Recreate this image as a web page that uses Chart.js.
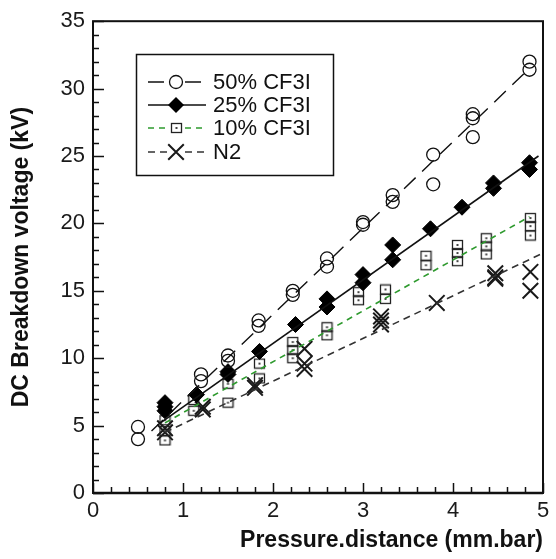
<!DOCTYPE html>
<html>
<head>
<meta charset="utf-8">
<script src="https://cdn.jsdelivr.net/npm/chart.js@4.4.1/dist/chart.umd.min.js"></script>
<style>
  html, body { margin: 0; padding: 0; background: #fff; }
</style>
</head>
<body>
<canvas id="chart" width="556" height="559"></canvas>
<script>
// ── Data ────────────────────────────────────────────────────────────────────
const seriesNames = ['50% CF3I', '25% CF3I', '10% CF3I', 'N2'];

const pd50 = [0.5, 0.5, 1.2, 1.2, 1.5, 1.5, 1.84, 1.84, 2.22, 2.22, 2.6, 2.6, 3.0, 3.0, 3.33, 3.33, 3.78, 3.78, 4.22, 4.22, 4.22, 4.85, 4.85];
const kv50 = [4.9, 4.0, 8.8, 8.3, 10.2, 9.8, 12.8, 12.4, 15.0, 14.7, 17.4, 16.8, 20.1, 19.9, 22.1, 21.6, 25.1, 22.9, 28.1, 27.8, 26.4, 32.0, 31.4];

const pd25 = [0.8, 0.8, 0.8, 1.15, 1.5, 1.5, 1.85, 2.25, 2.6, 2.6, 3.0, 3.0, 3.33, 3.33, 3.75, 4.1, 4.45, 4.45, 4.85, 4.85];
const kv25 = [6.7, 6.4, 6.1, 7.3, 9.0, 8.8, 10.5, 12.5, 14.4, 13.8, 16.2, 15.6, 18.4, 17.3, 19.6, 21.2, 23.0, 22.6, 24.5, 24.0];

const pd10 = [0.8, 0.8, 0.8, 1.12, 1.12, 1.5, 1.5, 1.85, 1.85, 2.22, 2.22, 2.22, 2.6, 2.6, 2.95, 2.95, 3.25, 3.25, 3.7, 3.7, 4.05, 4.05, 4.05, 4.37, 4.37, 4.37, 4.86, 4.86, 4.86];
const kv10 = [5.4, 4.6, 3.9, 6.9, 6.1, 8.1, 6.7, 9.6, 8.5, 11.2, 10.6, 10.0, 12.3, 11.7, 14.9, 14.3, 15.1, 14.4, 17.6, 16.9, 18.4, 17.8, 17.2, 18.9, 18.3, 17.7, 20.4, 19.8, 19.1];

const pdN2 = [0.8, 0.8, 1.22, 1.22, 1.8, 1.8, 2.35, 2.35, 2.35, 3.2, 3.2, 3.2, 3.82, 4.47, 4.47, 4.47, 4.86, 4.86];
const kvN2 = [4.8, 4.5, 6.4, 6.2, 8.0, 7.8, 10.7, 9.6, 9.2, 13.1, 12.8, 12.5, 14.1, 16.3, 16.0, 15.9, 16.4, 15.0];

// linear fits drawn through each group (end points)
const fit50X = [0.65, 4.85], fit50Y = [4.6, 31.5];
const fit25X = [0.75, 4.95], fit25Y = [5.2, 25.0];
const fit10X = [0.8, 4.85],  fit10Y = [5.2, 20.5];
const fitN2X = [0.8, 4.97],  fitN2Y = [4.5, 17.7];

const xTicksMax = 5, yTicksMax = 35;

// ── Helpers ────────────────────────────────────────────────────────────────
const FONT = "'Liberation Sans', Arial, sans-serif";
const pts = (xs, ys) => xs.map((x, i) => ({ x: x, y: ys[i] }));

// open square with a dot in the middle
function makeSquare() {
    const c = document.createElement('canvas');
    c.width = 13; c.height = 12;
    const g = c.getContext('2d');
    g.strokeStyle = '#222';
    g.lineWidth = 1.3;
    g.strokeRect(1.5, 1.5, 10, 9);
    g.fillStyle = '#444';
    g.fillRect(5.5, 5, 2, 2);
    return c;
}
const squareImg = makeSquare();

function markerSet(data, style, radius, color, fill, width) {
    return {
        type: 'scatter', data: data, showLine: false,
        pointStyle: style, pointRadius: radius, pointHoverRadius: radius,
        pointBorderColor: color, pointBackgroundColor: fill, pointBorderWidth: width,
    };
}
function fitSet(data, color, dash, width) {
    return {
        type: 'line', data: data, showLine: true, pointRadius: 0,
        borderColor: color, borderDash: dash, borderWidth: width, fill: false,
    };
}

const datasets = [
    fitSet(pts(fit50X, fit50Y), '#111', [16, 9], 1.4),
    fitSet(pts(fit25X, fit25Y), '#111', [], 1.6),
    fitSet(pts(fit10X, fit10Y), '#2e9a2e', [6, 5], 1.6),
    fitSet(pts(fitN2X, fitN2Y), '#333', [7, 5], 1.6),
    markerSet(pts(pd50, kv50), 'circle', 6.5, '#111', 'rgba(0,0,0,0)', 1.3),
    markerSet(pts(pd25, kv25), 'rectRot', 8, '#000', '#000', 1),
    markerSet(pts(pd10, kv10), squareImg, 6, '#222', 'rgba(0,0,0,0)', 1.3),
    markerSet(pts(pdN2, kvN2), 'crossRot', 11, '#1a1a1a', '#1a1a1a', 2),
];

// ── Legend drawn as a boxed inset ─────────────────────────────────────────
function drawMarker(ctx, ds, x, y) {
    const st = ds.pointStyle, r = ds.pointRadius;
    ctx.save();
    ctx.setLineDash([]);
    ctx.lineWidth = ds.pointBorderWidth;
    ctx.strokeStyle = ds.pointBorderColor;
    ctx.fillStyle = ds.pointBackgroundColor;
    if (st instanceof HTMLCanvasElement) {
        ctx.drawImage(st, Math.round(x - st.width / 2), Math.round(y - st.height / 2));
    } else if (st === 'circle') {
        ctx.beginPath(); ctx.arc(x, y, r, 0, Math.PI * 2); ctx.stroke();
    } else if (st === 'rectRot') {
        ctx.beginPath();
        ctx.moveTo(x, y - r); ctx.lineTo(x + r, y); ctx.lineTo(x, y + r); ctx.lineTo(x - r, y);
        ctx.closePath(); ctx.fill();
    } else if (st === 'crossRot') {
        const d = r * Math.SQRT1_2;
        ctx.beginPath();
        ctx.moveTo(x - d, y - d); ctx.lineTo(x + d, y + d);
        ctx.moveTo(x + d, y - d); ctx.lineTo(x - d, y + d);
        ctx.stroke();
    }
    ctx.restore();
}

const insetLegend = {
    id: 'insetLegend',
    afterDraw(chart) {
        const ctx = chart.ctx;
        const rows = [82, 105, 128, 152];
        const mx = 176;
        ctx.save();
        ctx.strokeStyle = '#111';
        ctx.lineWidth = 1.5;
        ctx.strokeRect(136.5, 54.5, 197, 121);
        ctx.font = '22px ' + FONT;
        ctx.textBaseline = 'middle';
        seriesNames.forEach((name, i) => {
            const line = datasets[i], mark = datasets[i + 4];
            const y = rows[i];
            const gap = i === 1 ? 0 : 9;
            ctx.setLineDash(line.borderDash);
            ctx.strokeStyle = line.borderColor;
            ctx.lineWidth = line.borderWidth;
            ctx.beginPath();
            ctx.moveTo(148, y); ctx.lineTo(mx - gap, y);
            ctx.moveTo(mx + gap, y); ctx.lineTo(206, y);
            ctx.stroke();
            drawMarker(ctx, mark, mx, y);
            ctx.setLineDash([]);
            ctx.fillStyle = '#111';
            ctx.fillText(name, 213, y + 1);
        });
        ctx.restore();
    }
};

// ── Frame with inward ticks ──────────────────────────────────────────────
const frameTicks = {
    id: 'frameTicks',
    afterDraw(chart) {
        const { ctx, chartArea: a, scales: { x, y } } = chart;
        ctx.save();
        ctx.strokeStyle = '#111';
        ctx.lineWidth = 1.5;
        ctx.beginPath();
        for (let i = 0; i <= 25; i++) {
            const px = Math.round(x.getPixelForValue(x.min + i * (x.max - x.min) / 25)) + 0.5;
            const len = i % 5 === 0 ? 10 : 6;
            ctx.moveTo(px, a.bottom); ctx.lineTo(px, a.bottom - len);
        }
        for (let i = 0; i <= 35; i++) {
            const py = Math.round(y.getPixelForValue(y.min + i * (y.max - y.min) / 35)) + 0.5;
            const len = i % 5 === 0 ? 11 : 6;
            ctx.moveTo(a.left, py); ctx.lineTo(a.left + len, py);
        }
        ctx.stroke();
        ctx.lineWidth = 2;
        ctx.strokeRect(a.left, a.top, a.right - a.left, a.bottom - a.top);
        ctx.lineWidth = 2.5;
        ctx.beginPath();
        ctx.moveTo(a.left, a.bottom); ctx.lineTo(a.right, a.bottom);
        ctx.stroke();
        ctx.restore();
    }
};

new Chart(document.getElementById('chart'), {
    type: 'scatter',
    data: { datasets: datasets },
    options: {
        responsive: false,
        animation: false,
        events: [],
        layout: { padding: { top: 17, right: 6, left: 0, bottom: 0 } },
        plugins: { legend: { display: false }, tooltip: { enabled: false } },
        scales: {
            x: {
                type: 'linear', min: 0, max: xTicksMax,
                grid: { display: false, drawTicks: false },
                border: { display: false },
                ticks: { stepSize: 1, padding: 5, color: '#1a1a1a', font: { family: FONT, size: 22 } },
                title: {
                    display: true, text: 'Pressure.distance (mm.bar)', align: 'end',
                    color: '#111', padding: { top: 0, bottom: 5 },
                    font: { family: FONT, size: 23, weight: 'bold' }
                },
                afterFit(scale) { scale.height = 66; }
            },
            y: {
                type: 'linear', min: 0, max: yTicksMax,
                grid: { display: false, drawTicks: false },
                border: { display: false },
                ticks: { stepSize: 5, padding: 8, color: '#1a1a1a', font: { family: FONT, size: 22 } },
                title: {
                    display: true, text: 'DC Breakdown voltage (kV)',
                    color: '#111', padding: { top: 8, bottom: 0 },
                    font: { family: FONT, size: 23, weight: 'bold' }
                },
                afterFit(scale) { scale.width = 93; }
            }
        }
    },
    plugins: [frameTicks, insetLegend]
});
</script>
</body>
</html>
